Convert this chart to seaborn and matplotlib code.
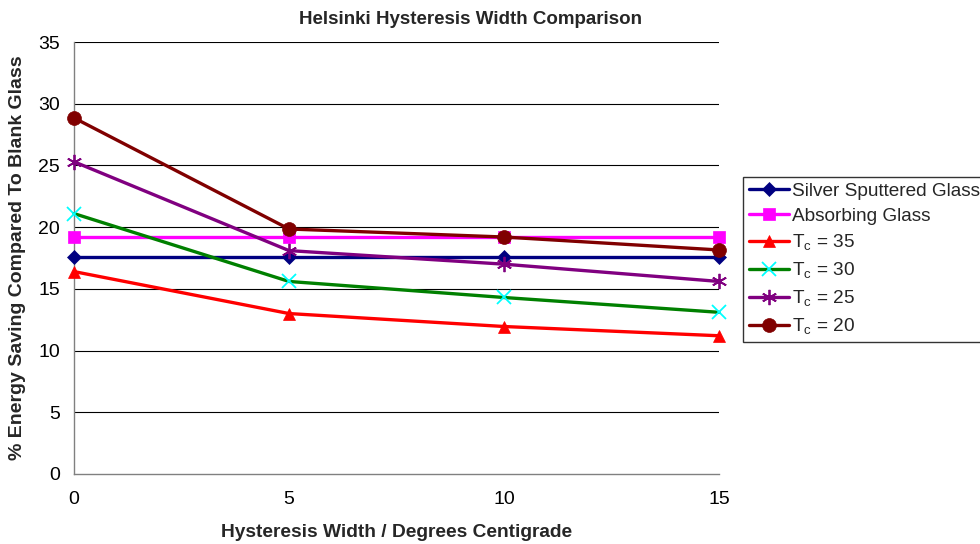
import matplotlib
matplotlib.use("Agg")
import matplotlib.pyplot as plt
import seaborn as sns
import pandas as pd
from matplotlib.lines import Line2D

sns.set_style("white")
plt.rcParams['font.family'] = ['Liberation Sans', 'DejaVu Sans']
plt.rcParams['mathtext.fontset'] = 'custom'
plt.rcParams['mathtext.rm'] = 'Liberation Sans'

x_vals = [0, 5, 10, 15]
silver = [17.6, 17.6, 17.6, 17.6]
absorbing = [19.2, 19.2, 19.2, 19.2]
tc35 = [16.4, 13.0, 11.95, 11.2]
tc30 = [21.1, 15.6, 14.3, 13.1]
tc25 = [25.3, 18.1, 17.0, 15.6]
tc20 = [28.85, 19.85, 19.2, 18.15]

labels = ["Silver Sputtered Glass", "Absorbing Glass",
          r"T$_{\mathregular{c}}$ = 35", r"T$_{\mathregular{c}}$ = 30",
          r"T$_{\mathregular{c}}$ = 25", r"T$_{\mathregular{c}}$ = 20"]
series = [silver, absorbing, tc35, tc30, tc25, tc20]
line_colors = ["#000080", "#FF00FF", "#FF0000", "#008000", "#800080", "#800000"]
marker_colors = ["#000080", "#FF00FF", "#FF0000", "#00FFFF", "#800080", "#800000"]
markers = ["D", "s", "^", "x", (6, 2, 0), "o"]
msizes = [7, 9, 9, 10, 11, 10]

fig = plt.figure(figsize=(9.8, 5.44), dpi=100)
ax = fig.add_axes([74/980, 70/544, (719-74)/980, (474-42)/544])

handles = []
for lab, vals, lc, mc, mk, ms in zip(labels, series, line_colors, marker_colors, markers, msizes):
    df = pd.DataFrame({"x": x_vals, "y": vals})
    mew = 1.3 if mk in ("x", (6, 2, 0)) else 0.5
    sns.lineplot(data=df, x="x", y="y", ax=ax, color=lc, lw=2.4,
                 marker=mk, markersize=ms, markerfacecolor=mc, markeredgecolor=mc,
                 markeredgewidth=mew, clip_on=False, zorder=3)
    handles.append(Line2D([0], [0], color=lc, lw=2.4, marker=mk, markersize=ms,
                          markerfacecolor=mc, markeredgecolor=mc, markeredgewidth=mew))

ax.set_xlim(0, 15)
ax.set_ylim(0, 35)
ax.set_xticks([0, 5, 10, 15])
ax.set_yticks(range(0, 36, 5))
for yv in range(5, 36, 5):
    ax.axhline(yv, color="#000000", lw=0.8, zorder=1)
for s in ["top", "right"]:
    ax.spines[s].set_visible(False)
for s in ["left", "bottom"]:
    ax.spines[s].set_color("#808080")
    ax.spines[s].set_linewidth(1.0)
ax.tick_params(axis="both", direction="out", length=5, width=1, color="#808080",
               labelsize=14, labelcolor="black")
ax.tick_params(axis="x", pad=7)
ax.tick_params(axis="y", pad=5)
ax.set_xlabel("Hysteresis Width / Degrees Centigrade", fontsize=13.8, fontweight="bold", labelpad=12)
ax.set_ylabel("% Energy Saving Compared To Blank Glass", fontsize=14, fontweight="bold", labelpad=9)

fig.text(470/980, 1 - 19/544, "Helsinki Hysteresis Width Comparison", ha="center", va="center",
         fontsize=13.5, fontweight="bold")

leg = fig.legend(handles, labels, loc="upper left", bbox_to_anchor=(743/980, 1 - 177/544),
                 frameon=True, fancybox=False, fontsize=13.7, handlelength=2.1,
                 handletextpad=0.15, borderpad=0.3, labelspacing=0.4, borderaxespad=0)
leg.get_frame().set_edgecolor("black")
leg.get_frame().set_linewidth(1.0)

fig.savefig("out.png", dpi=100)
